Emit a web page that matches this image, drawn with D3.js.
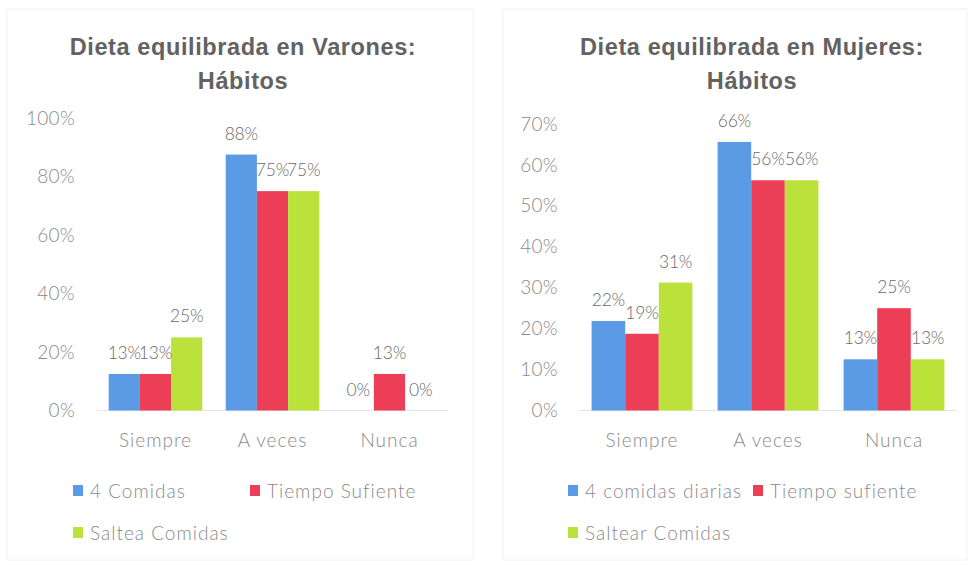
<!DOCTYPE html>
<html>
<head>
<meta charset="utf-8">
<script src="https://cdn.jsdelivr.net/npm/d3@7"></script>
<style>
  body { margin: 0; background: #fff; }
  svg text { font-family: Lato, "Open Sans", sans-serif; font-weight: 300; }
</style>
</head>
<body>
<svg width="975" height="565"></svg>
<script>
const categories = ['Siempre', 'A veces', 'Nunca']

// varones
const menSeries = ['4 Comidas', 'Tiempo Sufiente', 'Saltea Comidas']
const menComidas = [0.125, 0.875, 0]
const menTiempo = [0.125, 0.75, 0.125]
const menSaltea = [0.25, 0.75, 0]
const menTicks = [0, 0.2, 0.4, 0.6, 0.8, 1]

// mujeres
const womenSeries = ['4 comidas diarias', 'Tiempo sufiente', 'Saltear Comidas']
const womenComidas = [0.21875, 0.65625, 0.125]
const womenTiempo = [0.1875, 0.5625, 0.25]
const womenSaltea = [0.3125, 0.5625, 0.125]
const womenTicks = [0, 0.1, 0.2, 0.3, 0.4, 0.5, 0.6, 0.7]

const colors = ['#5b9ae4', '#ec3f57', '#bbe23a']
const pct = d3.format('.0%')

const svg = d3.select('svg')

function drawChart(opts) {
  let g = svg.append('g')

  // faint frame
  g.append('rect')
    .attr('x', opts.frame[0])
    .attr('y', 9)
    .attr('width', opts.frame[1] - opts.frame[0])
    .attr('height', 551)
    .attr('fill', 'none')
    .attr('stroke', '#f2f2f2')

  let x0 = d3.scaleBand()
    .domain(categories)
    .range(opts.xRange)
    .paddingInner(0.2)
    .paddingOuter(0.1)

  let x1 = d3.scaleBand()
    .domain(opts.series)
    .range([0, x0.bandwidth()])

  let y = d3.scaleLinear()
    .domain([0, opts.max])
    .range([410.5, opts.yTop])

  // title, two lines
  g.selectAll('.title')
    .data([opts.title, 'Hábitos'])
    .enter()
    .append('text')
      .attr('x', opts.cx)
      .attr('y', (d, i) => 55 + i * 34)
      .attr('text-anchor', 'middle')
      .style('font-family', '"Liberation Sans", Arial, sans-serif')
      .style('font-weight', 'bold')
      .style('font-size', '23.5px')
      .style('letter-spacing', '0.6px')
      .attr('fill', '#626262')
      .text(d => d)

  // y axis (labels only)
  let yAxis = d3.axisLeft(y)
    .tickValues(opts.ticks)
    .tickFormat(pct)
    .tickSize(0)
    .tickPadding(0)
  let ya = g.append('g')
    .attr('transform', `translate(${opts.yLabelX}, 0)`)
    .call(yAxis)
  ya.select('.domain').remove()
  ya.selectAll('text')
    .style('font-family', 'Lato, sans-serif')
    .style('font-size', '19px')
    .style('letter-spacing', '0.3px')
    .attr('fill', '#8a8a8a')

  // baseline
  g.append('line')
    .attr('x1', opts.xRange[0])
    .attr('x2', opts.xRange[1])
    .attr('y1', y(0))
    .attr('y2', y(0))
    .attr('stroke', '#e6e6e6')

  let rows = categories.map((c, i) => ({
    cat: c,
    vals: opts.values.map((v, j) => ({ key: opts.series[j], v: v[i], color: colors[j] }))
  }))

  let groups = g.selectAll('.grp')
    .data(rows)
    .enter()
    .append('g')
      .attr('transform', d => `translate(${x0(d.cat)}, 0)`)

  groups.selectAll('rect')
    .data(d => d.vals)
    .enter()
    .append('rect')
      .attr('x', d => x1(d.key))
      .attr('y', d => y(d.v))
      .attr('width', x1.bandwidth())
      .attr('height', d => y(0) - y(d.v))
      .attr('fill', d => d.color)

  // value labels, packed tight like the original
  groups.selectAll('.lbl')
    .data(d => d.vals)
    .enter()
    .append('text')
      .attr('x', d => x1(d.key) + x1.bandwidth() / 2)
      .attr('y', d => y(d.v) - 15)
      .attr('text-anchor', 'middle')
      .style('font-size', '17.5px')
      .style('letter-spacing', '-0.2px')
      .attr('fill', '#6a6a6a')
      .text(d => pct(d.v))

  // category labels
  g.selectAll('.cat')
    .data(categories)
    .enter()
    .append('text')
      .attr('x', d => x0(d) + x0.bandwidth() / 2)
      .attr('y', 447)
      .attr('text-anchor', 'middle')
      .style('font-size', '19px')
      .style('letter-spacing', '1px')
      .attr('fill', '#8a8a8a')
      .text(d => d)

  // legend
  let legend = g.selectAll('.leg')
    .data(opts.series)
    .enter()
    .append('g')
      .attr('transform', (d, i) => `translate(${opts.legendPos[i][0]}, ${opts.legendPos[i][1]})`)
  legend.append('rect')
    .attr('x', 0)
    .attr('y', -6)
    .attr('width', 10)
    .attr('height', 11)
    .attr('fill', (d, i) => colors[i])
  legend.append('text')
    .attr('x', 17)
    .attr('y', 7)
    .style('font-size', '19px')
    .style('letter-spacing', '1px')
    .attr('fill', '#8a8a8a')
    .text(d => d)
}

drawChart({
  title: 'Dieta equilibrada en Varones:',
  cx: 243,
  frame: [7, 473],
  xRange: [97, 448],
  max: 1,
  yTop: 118,
  ticks: menTicks,
  yLabelX: 75,
  series: menSeries,
  values: [menComidas, menTiempo, menSaltea],
  legendPos: [[73, 491], [250, 491], [73, 533]]
})

drawChart({
  title: 'Dieta equilibrada en Mujeres:',
  cx: 752,
  frame: [503, 967],
  xRange: [579, 957],
  max: 0.7,
  yTop: 124,
  ticks: womenTicks,
  yLabelX: 558,
  series: womenSeries,
  values: [womenComidas, womenTiempo, womenSaltea],
  legendPos: [[568, 491], [753, 491], [568, 533]]
})
</script>
</body>
</html>
